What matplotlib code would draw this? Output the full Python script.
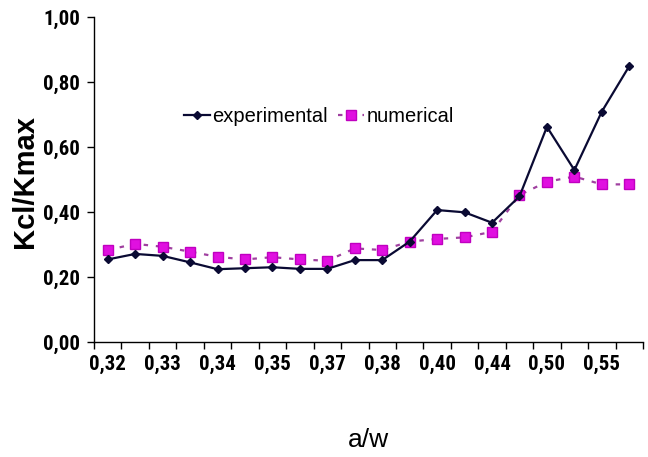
import matplotlib
matplotlib.use("Agg")
import matplotlib.pyplot as plt
from matplotlib import font_manager as fm

# ---- data ----
tick_labels = ["0,32", "0,33", "0,34", "0,35", "0,37", "0,38", "0,40", "0,44", "0,50", "0,55"]
experimental = [0.254, 0.271, 0.265, 0.245, 0.224, 0.227, 0.230, 0.225, 0.225, 0.252,
                0.252, 0.309, 0.406, 0.399, 0.367, 0.448, 0.662, 0.529, 0.709, 0.849]
numerical = [0.283, 0.302, 0.293, 0.278, 0.262, 0.254, 0.261, 0.254, 0.250, 0.288,
             0.283, 0.309, 0.317, 0.322, 0.339, 0.452, 0.493, 0.509, 0.485, 0.485]
yticks = [0.0, 0.2, 0.4, 0.6, 0.8, 1.0]

names = {f.name for f in fm.fontManager.ttflist}
arial = "Liberation Sans" if "Liberation Sans" in names else "DejaVu Sans"
tickfont = arial
for cand in ["Liberation Sans Narrow", "DejaVu Sans Condensed", "Roboto Condensed"]:
    if cand in names:
        tickfont = cand
        break

fig = plt.figure(figsize=(6.48, 4.57), dpi=100)
ax = fig.add_axes([94/648, 1-342/457, (643-94)/648, (342-17)/457])

n = len(experimental)
x = list(range(n))
ax.plot(x, experimental, color="#0a0a33", lw=1.6, marker="D", ms=4.5,
        mfc="#0a0a33", mec="#0a0a33", label="experimental", zorder=3)
ax.plot(x, numerical, color="#a040a0", lw=1.6, ls=(0, (2, 3.5)), marker="s", ms=6.5,
        mfc="#e010e0", mec="#c000c0", label="numerical", zorder=2)

ax.set_xlim(-0.5, n - 0.5)
ax.set_ylim(0, 1.0)
ax.set_yticks(yticks)
ax.set_yticklabels([f"{v:.2f}".replace(".", ",") for v in yticks])
ax.set_xticks([i - 0.5 for i in range(n + 1)])
ax.set_xticklabels([])
ax.set_xticks(list(range(0, n, 2)), minor=True)
ax.set_xticklabels(tick_labels, minor=True)
ax.tick_params(axis="x", which="minor", length=0, pad=9)
ax.tick_params(axis="x", which="major", direction="out", length=5, width=1)
ax.tick_params(axis="y", direction="out", length=5, width=1, pad=5)
for lab in ax.get_xticklabels(minor=True) + ax.get_yticklabels():
    lab.set_fontfamily(tickfont)
    lab.set_fontweight("bold")
    lab.set_fontsize(15)
for s in ["top", "right"]:
    ax.spines[s].set_visible(False)
for s in ["left", "bottom"]:
    ax.spines[s].set_linewidth(1.0)

fig.text(25/648, 1-181/457, "Kcl/Kmax", fontfamily=arial, fontweight="bold", fontsize=21,
         rotation=90, ha="center", va="center")
fig.text(368/648, 1-440/457, "a/w", fontfamily=arial, fontsize=19, ha="center", va="center")

leg = ax.legend(loc="center", bbox_to_anchor=((319-94)/549, (342-117)/325), ncol=2,
                frameon=False, handlelength=1.3, handletextpad=0.1, columnspacing=0.5,
                prop={"family": arial, "size": 14.5})

fig.savefig("out.png", dpi=100, facecolor="white")
